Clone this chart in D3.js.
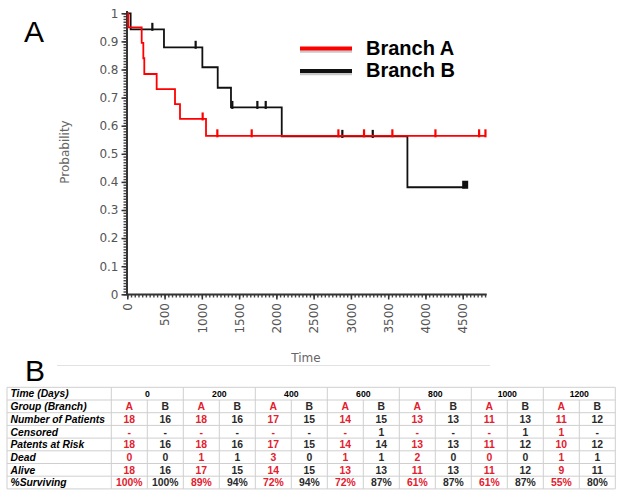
<!DOCTYPE html>
<html lang="en">
<head>
<meta charset="UTF-8">
<title>Survival</title>
<script src="https://cdn.jsdelivr.net/npm/d3@7/dist/d3.min.js"></script>
<style>
body{margin:0;background:#fff}
</style>
</head>
<body>
<div class="chart"></div>
<script>
// data - survival curves (time in days, probability)
const timeTicks=[0,500,1000,1500,2000,2500,3000,3500,4000,4500]
const probTicks=[0,0.1,0.2,0.3,0.4,0.5,0.6,0.7,0.8,0.9,1]
const probLabels=["0","0.1","0.2","0.3","0.4","0.5","0.6","0.7","0.8","0.9","1"]

const seriesNames=["Branch A","Branch B"]
const seriesColors=["#ff0000","#111111"]

const aTimes=[0,13,193,215,228,394,640,707,1056,4805]
const aProb=[1,0.95,0.895,0.84,0.784,0.73,0.677,0.624,0.564,0.564]
const aCensored=[1011,1208,1669,2832,3176,3556,4134,4720,4805]

const bTimes=[0,45,492,1007,1213,1391,2072,3758,4533]
const bProb=[1,0.943,0.879,0.808,0.735,0.665,0.562,0.381,0.381]
const bCensored=[336,917,1409,1745,1857,2885,3293]
const bLast=[4533]

// data - table
const tableTimes=[0,200,400,600,800,1000,1200]
const rowLabels=["Time (Days)","Group (Branch)","Number of Patients","Censored","Patents at Risk","Dead","Alive","%Surviving"]
const numA=[18,18,17,14,13,11,11], numB=[16,16,15,15,13,13,12]
const censA=["-","-","-","-","-","-","1"], censB=["-","-","-","1","-","1","-"]
const riskA=[18,18,17,14,13,11,10], riskB=[16,16,15,14,13,12,12]
const deadA=[0,1,3,1,2,0,1], deadB=[0,1,0,1,0,0,1]
const aliveA=[18,17,14,13,11,11,9], aliveB=[16,15,15,13,13,12,11]
const survA=["100%","89%","72%","72%","61%","61%","55%"], survB=["100%","94%","94%","87%","87%","87%","80%"]

const W=624,H=497
const svg=d3.select('.chart').append('svg').attr('width',W).attr('height',H)
  .style('font-family','"Liberation Sans",Arial,sans-serif')

// panel letters
svg.append('text').attr('x',24).attr('y',42).attr('font-size',30).text('A')
svg.append('text').attr('x',25).attr('y',381).attr('font-size',30).text('B')

// scales
const x=d3.scaleLinear().domain([0,4815]).range([127.3,486.2])
const y=d3.scaleLinear().domain([0,1]).range([294.3,13.3])

// minor ticks (drawn by hand-free axes, every 0.01 and every 50 days)
const axisFont='"DejaVu Sans",Verdana,sans-serif'
svg.append('g').attr('transform','translate(127,0)')
  .call(d3.axisLeft(y).tickValues(d3.range(0,101).map(i=>i/100)).tickSize(3.5).tickSizeOuter(0).tickFormat(()=>''))
  .call(g=>g.select('.domain').remove())
  .call(g=>g.selectAll('line').attr('stroke','#444').attr('stroke-width',1.4))
svg.append('g').attr('transform','translate(0,294)')
  .call(d3.axisBottom(x).tickValues(d3.range(0,4801,50)).tickSize(3.5).tickSizeOuter(0).tickFormat(()=>''))
  .call(g=>g.select('.domain').remove())
  .call(g=>g.selectAll('line').attr('stroke','#444').attr('stroke-width',1.4))

// major axes
let yAxis=svg.append('g').attr('transform','translate(127,0)')
  .call(d3.axisLeft(y).tickValues(probTicks).tickSize(5.5).tickSizeOuter(0).tickFormat((d,i)=>probLabels[i]))
yAxis.selectAll('text').attr('font-family',axisFont).attr('font-size',12).attr('fill','#555')
yAxis.selectAll('line').attr('stroke','#333').attr('stroke-width',1.5)
yAxis.select('.domain').attr('stroke','#333').attr('stroke-width',2).attr('d','M0,11V294')

let xAxis=svg.append('g').attr('transform','translate(0,294)')
  .call(d3.axisBottom(x).tickValues(timeTicks).tickSize(5.5).tickSizeOuter(0).tickFormat(d=>String(d)))
xAxis.selectAll('text').attr('font-family',axisFont).attr('font-size',12).attr('fill','#555')
  .attr('y',0).attr('dy','0.35em').attr('x',-9).attr('transform','rotate(-90)').attr('text-anchor','end')
xAxis.selectAll('line').attr('stroke','#333').attr('stroke-width',1.5)
xAxis.select('.domain').attr('stroke','#333').attr('stroke-width',2)

// axis titles
svg.append('text').attr('transform','translate(69,152) rotate(-90)').attr('text-anchor','middle')
  .attr('font-family',axisFont).attr('font-size',12).attr('fill','#666').text('Probability')
svg.append('text').attr('x',306).attr('y',362).attr('text-anchor','middle')
  .attr('font-family',axisFont).attr('font-size',12).attr('fill','#666').text('Time')
svg.append('line').attr('x1',57).attr('x2',490).attr('y1',365.5).attr('y2',365.5).attr('stroke','#e2e2e2')

// curves
const line=d3.line().x(d=>x(d[0])).y(d=>y(d[1])).curve(d3.curveStepAfter)
function probAt(times,probs,t){
  let i=d3.bisectRight(times,t)-1
  return probs[Math.max(0,i)]
}
function drawCurve(times,probs,censored,color,tickW){
  svg.append('path').datum(times.map((t,i)=>[t,probs[i]]))
    .attr('d',line).attr('fill','none').attr('stroke',color).attr('stroke-width',1.8)
  svg.append('g').selectAll('rect').data(censored).join('rect')
    .attr('x',d=>x(d)-tickW/2).attr('y',d=>y(probAt(times,probs,d))-6.5)
    .attr('width',tickW).attr('height',8).attr('fill',color)
}
drawCurve(bTimes,bProb,bCensored,seriesColors[1],2.2)
drawCurve(aTimes,aProb,aCensored,seriesColors[0],2.2)
svg.append('g').selectAll('rect').data(bLast).join('rect')
  .attr('x',d=>x(d)-3).attr('y',d=>y(probAt(bTimes,bProb,d))-6.5)
  .attr('width',6).attr('height',8).attr('fill',seriesColors[1])

// legend
const legend=svg.append('g').selectAll('g').data(seriesNames).join('g')
  .attr('transform',(d,i)=>'translate(300,'+(48.5+i*22.5)+')')
legend.append('line').attr('x1',0).attr('x2',52).attr('y1',3).attr('y2',3).attr('stroke','#c8c8c8').attr('stroke-width',2.5)
legend.append('line').attr('x1',0).attr('x2',52).attr('y1',0).attr('y2',0).attr('stroke',(d,i)=>seriesColors[i]).attr('stroke-width',4)
legend.append('text').attr('x',66).attr('y',6).attr('font-size',20).attr('font-weight','bold').text(d=>d)

// table
const tX0=7, labelW=104.3, colW=36, tY0=387.3, rowH=12.7
const nCols=tableTimes.length*2
const tRight=tX0+labelW+nCols*colW
const tBottom=tY0+rowLabels.length*rowH
const grid=svg.append('g').attr('stroke','#cfcfcf').attr('stroke-width',1)
d3.range(rowLabels.length+1).forEach(i=>{
  grid.append('line').attr('x1',tX0).attr('x2',tRight).attr('y1',tY0+i*rowH).attr('y2',tY0+i*rowH)
})
grid.append('line').attr('x1',tX0).attr('x2',tX0).attr('y1',tY0).attr('y2',tBottom)
d3.range(nCols+1).forEach(j=>{
  let xx=tX0+labelW+j*colW
  grid.append('line').attr('x1',xx).attr('x2',xx).attr('y1',j%2==0?tY0:tY0+rowH).attr('y2',tBottom)
})
const red='#e3202e', dark='#2a2a2a'
svg.append('g').selectAll('text').data(rowLabels).join('text')
  .attr('x',tX0+3.5).attr('y',(d,i)=>tY0+i*rowH+rowH/2+3.8)
  .attr('font-size',10.3).attr('font-weight','bold').attr('font-style','italic').text(d=>d)
svg.append('g').selectAll('text').data(tableTimes).join('text')
  .attr('x',(d,i)=>tX0+labelW+i*2*colW+colW).attr('y',tY0+rowH/2+3.3)
  .attr('text-anchor','middle').attr('font-size',8.7).attr('font-weight','bold').text(d=>d)
const rowsA=[tableTimes.map(()=>'A'),numA,censA,riskA,deadA,aliveA,survA]
const rowsB=[tableTimes.map(()=>'B'),numB,censB,riskB,deadB,aliveB,survB]
rowsA.forEach((row,r)=>{
  svg.append('g').selectAll('text').data(row).join('text')
    .attr('x',(d,i)=>tX0+labelW+i*2*colW+colW/2).attr('y',tY0+(r+1)*rowH+rowH/2+3.8)
    .attr('text-anchor','middle').attr('font-size',10.4).attr('font-weight','bold').attr('fill',red).text(d=>d)
  svg.append('g').selectAll('text').data(rowsB[r]).join('text')
    .attr('x',(d,i)=>tX0+labelW+i*2*colW+colW*1.5).attr('y',tY0+(r+1)*rowH+rowH/2+3.8)
    .attr('text-anchor','middle').attr('font-size',10.4).attr('font-weight','bold').attr('fill',dark).text(d=>d)
})
</script>
</body>
</html>
